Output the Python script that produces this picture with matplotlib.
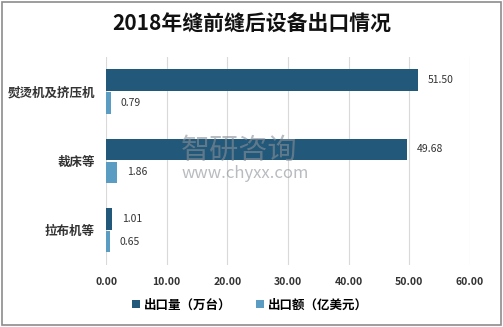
import numpy as np
import matplotlib.pyplot as plt
from matplotlib.patches import Rectangle

plt.rcParams['font.family'] = ['Noto Sans CJK SC', 'DejaVu Sans']

categories = ["熨烫机及挤压机", "裁床等", "拉布机等"]
volume = [51.50, 49.68, 1.01]   # 出口量（万台）
amount = [0.79, 1.86, 0.65]     # 出口额（亿美元）
series_names = ["出口量（万台）", "出口额（亿美元）"]
xticks = [0, 10, 20, 30, 40, 50, 60]

fig = plt.figure(figsize=(5.03, 3.27), dpi=100)
ax = fig.add_axes([0.211, 0.190, 0.723, 0.636])

y = np.arange(len(categories))
h = 0.31
b1 = ax.barh(y - 0.165, volume, height=h, color='#22587a', label=series_names[0])
b2 = ax.barh(y + 0.165, amount, height=h, color='#5b9dc2', label=series_names[1])

for bars, vals in ((b1, volume), (b2, amount)):
    for bar, v in zip(bars, vals):
        ax.text(v + 1.6, bar.get_y() + bar.get_height() / 2, f"{v:.2f}",
                va='center', ha='left', fontsize=7.5, color='#333333')

ax.set_ylim(2.5, -0.5)
ax.set_xlim(0, 60)
ax.set_xticks(xticks)
ax.set_xticklabels([f"{t:.2f}" for t in xticks], fontsize=7.5,
                   fontweight='bold', color='#333333')
ax.set_yticks(y)
ax.set_yticklabels(categories, fontsize=9, fontweight='bold', color='#333333')
ax.tick_params(length=0, pad=8)
ax.tick_params(axis='x', pad=9)
ax.grid(axis='x', color='#d9d9d9', linewidth=0.8)
ax.set_axisbelow(True)
for s in ax.spines.values():
    s.set_visible(False)

fig.text(0.5, 0.925, "2018年缝前缝后设备出口情况", ha='center', va='center',
         fontsize=15, fontweight='bold', color='#111111')

fig.legend(handles=[b1, b2], loc='center', bbox_to_anchor=(0.497, 0.068), ncol=2,
           frameon=False, handlelength=0.6, handleheight=0.6,
           columnspacing=2.0, handletextpad=0.3,
           prop={'weight': 'bold', 'size': 9})

# watermark
fig.text(0.36, 0.54, "智研咨询", fontsize=21, color='#8a9096', alpha=0.6,
         ha='left', va='center')
fig.text(0.36, 0.47, "www.chyxx.com", fontsize=12, color='#8a9096', alpha=0.6,
         ha='left', va='center')

fig.patches.append(Rectangle((0.004, 0.006), 0.992, 0.988, transform=fig.transFigure,
                             fill=False, edgecolor='#8c8c8c', linewidth=1.2))

fig.savefig("out.png", dpi=100)
